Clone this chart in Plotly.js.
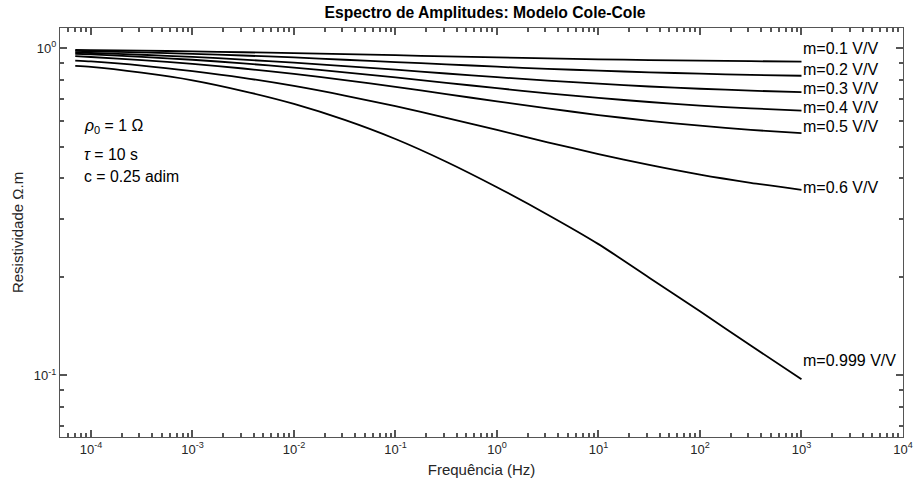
<!DOCTYPE html>
<html>
<head>
<meta charset="utf-8">
<script src="https://cdn.plot.ly/plotly-3.0.1.min.js"></script>
<style>html,body{margin:0;padding:0;background:#fff;}</style>
</head>
<body>
<div id="chart" style="width:914px;height:487px;"></div>
<script>
const freq = [7e-5, 1e-4, 3.16e-4, 1e-3, 3.16e-3, 1e-2, 3.16e-2, 0.1, 0.316, 1, 3.16, 10, 31.6, 100, 316, 1000];

// Resistivity amplitude (ohm.m) per curve
const m01  = [0.988, 0.987, 0.983, 0.978, 0.972, 0.966, 0.959, 0.952, 0.944, 0.937, 0.931, 0.925, 0.920, 0.916, 0.913, 0.910];
const m02  = [0.981, 0.979, 0.971, 0.961, 0.950, 0.937, 0.922, 0.907, 0.893, 0.878, 0.865, 0.854, 0.844, 0.836, 0.829, 0.824];
const m03  = [0.971, 0.967, 0.955, 0.941, 0.923, 0.904, 0.882, 0.860, 0.837, 0.816, 0.796, 0.779, 0.764, 0.752, 0.742, 0.734];
const m04  = [0.962, 0.958, 0.941, 0.922, 0.899, 0.873, 0.844, 0.814, 0.784, 0.755, 0.728, 0.705, 0.685, 0.668, 0.655, 0.645];
const m05  = [0.946, 0.940, 0.920, 0.896, 0.867, 0.835, 0.799, 0.762, 0.724, 0.688, 0.655, 0.625, 0.600, 0.580, 0.563, 0.550];
const m06  = [0.917, 0.911, 0.885, 0.851, 0.812, 0.767, 0.717, 0.665, 0.613, 0.563, 0.516, 0.475, 0.440, 0.411, 0.388, 0.369];
const m0999 = [0.883, 0.877, 0.842, 0.798, 0.740, 0.676, 0.604, 0.528, 0.450, 0.376, 0.310, 0.252, 0.199, 0.157, 0.1235, 0.0974];

const seriesNames = ['m=0.1 V/V', 'm=0.2 V/V', 'm=0.3 V/V', 'm=0.4 V/V', 'm=0.5 V/V', 'm=0.6 V/V', 'm=0.999 V/V'];
const seriesData = [m01, m02, m03, m04, m05, m06, m0999];

// Tick labels
const xTickVals = [1e-4, 1e-3, 1e-2, 1e-1, 1e0, 1e1, 1e2, 1e3, 1e4];
const xTickText = ['10<sup>-4</sup>', '10<sup>-3</sup>', '10<sup>-2</sup>', '10<sup>-1</sup>', '10<sup>0</sup>', '10<sup>1</sup>', '10<sup>2</sup>', '10<sup>3</sup>', '10<sup>4</sup>'];
const yTickVals = [0.1, 1];
const yTickText = ['10<sup>-1</sup>', '10<sup>0</sup>'];

// Label placement (log10 of y where each label sits)
const labelY = [0.0, -0.0665, -0.122, -0.1805, -0.2395, -0.426, -0.953];

const FONT = 'Liberation Sans';
const AX = '#555555';
const NOGRID = 'rgba(0,0,0,0)';

// minor tick positions
const xMinor = [];
for (let k = -5; k <= 3; k++) for (let d = 2; d <= 9; d++) { const v = d * Math.pow(10, k); if (v > 5e-5 && v < 1e4) xMinor.push(v); }
const yMinor = [];
for (let k = -2; k <= 0; k++) for (let d = 2; d <= 9; d++) { const v = d * Math.pow(10, k); if (v > 0.065 && v < 1.15) yMinor.push(v); }

const xRange = [-4.305, 4];
const yRange = [-1.188, 0.0618];

const traces = seriesData.map((ys, i) => ({
  x: freq, y: ys, type: 'scatter', mode: 'lines', name: seriesNames[i],
  line: {color: '#000', width: 1.8, shape: 'spline', smoothing: 0.7},
  showlegend: false, hoverinfo: 'skip'
}));
// invisible carrier trace so the top/right tick axes are drawn
traces.push({x: freq, y: m01, xaxis: 'x2', yaxis: 'y2', type: 'scatter', mode: 'lines',
  line: {color: 'rgba(0,0,0,0)', width: 0}, showlegend: false, hoverinfo: 'skip'});

const annotations = seriesNames.map((t, i) => ({
  x: 3, y: labelY[i], xref: 'x', yref: 'y', text: t, showarrow: false,
  xanchor: 'left', yanchor: 'middle', xshift: 0,
  font: {family: FONT, size: 16, color: '#000'}
}));
const params = ['<i>ρ</i><sub>0</sub> = 1 Ω', '<i>τ</i> = 10 s', 'c = 0.25 adim'];
const paramY = [0.758, 0.6895, 0.638];
params.forEach((t, i) => annotations.push({
  x: 0.0265, y: paramY[i], xref: 'paper', yref: 'paper', text: t, showarrow: false,
  xanchor: 'left', yanchor: 'middle', font: {family: FONT, size: 15.8, color: '#000'}
}));

const tickStyle = {ticks: 'inside', ticklen: 7, tickwidth: 1.5, tickcolor: AX, gridcolor: NOGRID};
const minorX = {tickmode: 'array', tickvals: xMinor, ticks: 'inside', ticklen: 4, tickwidth: 1.5, tickcolor: AX, gridcolor: NOGRID};
const minorY = {tickmode: 'array', tickvals: yMinor, ticks: 'inside', ticklen: 4, tickwidth: 1.5, tickcolor: AX, gridcolor: NOGRID};

const layout = {
  width: 914, height: 487,
  margin: {l: 60, r: 11, t: 28, b: 50},
  paper_bgcolor: '#fff', plot_bgcolor: '#fff',
  font: {family: FONT, color: '#262626'},
  title: {text: '<b>Espectro de Amplitudes: Modelo Cole-Cole</b>', font: {family: FONT, size: 15.7, color: '#000'},
    x: 0.5306, xref: 'container', xanchor: 'center', y: 0.975, yref: 'container', yanchor: 'middle'},
  xaxis: Object.assign({type: 'log', range: xRange, tickmode: 'array', tickvals: xTickVals, ticktext: xTickText,
    showline: true, linecolor: AX, linewidth: 1, mirror: true, minor: minorX,
    tickfont: {family: FONT, size: 13, color: '#262626'},
    title: {text: 'Frequência (Hz)', font: {family: FONT, size: 15, color: '#262626'}, standoff: 8}}, tickStyle),
  yaxis: Object.assign({type: 'log', range: yRange, tickmode: 'array', tickvals: yTickVals, ticktext: yTickText,
    showline: true, linecolor: AX, linewidth: 1, mirror: true, minor: minorY,
    tickfont: {family: FONT, size: 13, color: '#262626'},
    title: {text: 'Resistividade Ω.m', font: {family: FONT, size: 15, color: '#262626'}, standoff: 6}}, tickStyle),
  xaxis2: Object.assign({type: 'log', range: xRange, overlaying: 'x', anchor: 'y', side: 'top',
    tickmode: 'array', tickvals: xTickVals, showticklabels: false, showline: false, minor: minorX}, tickStyle),
  yaxis2: Object.assign({type: 'log', range: yRange, overlaying: 'y', anchor: 'x', side: 'right',
    tickmode: 'array', tickvals: yTickVals, showticklabels: false, showline: false, minor: minorY}, tickStyle),
  annotations: annotations,
  showlegend: false
};

Plotly.newPlot('chart', traces, layout, {displayModeBar: false});
</script>
</body>
</html>
